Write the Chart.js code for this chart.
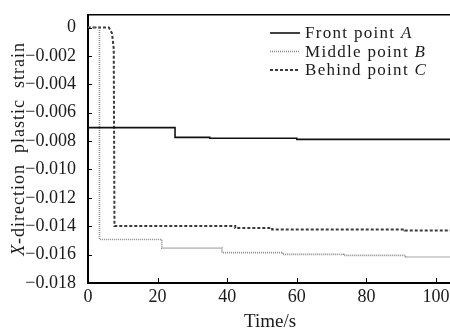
<!DOCTYPE html>
<html>
<head>
<meta charset="utf-8">
<script src="https://cdn.jsdelivr.net/npm/chart.js@4"></script>
<style>
  html, body { margin: 0; padding: 0; background: #fff; }
  #wrap { width: 450px; height: 332px; position: relative; }
</style>
</head>
<body>
<div id="wrap"><canvas id="chart"></canvas></div>
<script>
// values (time in s, strain)
const timesA = [0, 25, 25, 35, 35, 60, 60, 104];
const strainA = [-0.00705, -0.00705, -0.00774, -0.00774, -0.0078, -0.0078, -0.00788, -0.00788];

const timesB = [0, 3.3, 3.3, 21.2, 21.2, 38.5, 38.5, 56, 56, 73.4, 73.4, 91.2, 91.2, 104];
const strainB = [0, 0, -0.01493, -0.01493, -0.01554, -0.01554, -0.01586, -0.01586, -0.01598, -0.01598, -0.01605, -0.01605, -0.01617, -0.01617];

const timesC = [0, 6, 6.9, 7.4, 7.6, 42.3, 42.3, 52.9, 52.9, 91, 91, 104];
const strainC = [0, 0, -0.0004, -0.0015, -0.01398, -0.01398, -0.01412, -0.01412, -0.01423, -0.01423, -0.0143, -0.0143];

const seriesNames = [['Front point ', 'A'], ['Middle point ', 'B'], ['Behind point ', 'C']];
const xTicks = [0, 20, 40, 60, 80, 100];
const yTicks = [0, -0.002, -0.004, -0.006, -0.008, -0.010, -0.012, -0.014, -0.016, -0.018];

const FONT = '"Liberation Serif", "DejaVu Serif", serif';
const TEXT = '#1a1a1a';

function toPoints(xs, ys) {
    return xs.map((x, i) => ({ x: x, y: ys[i] }));
}

// top border, inner tick marks, legend and axis titles
const decor = {
    id: 'decor',
    afterDraw(chart) {
        const ctx = chart.ctx;
        const area = chart.chartArea;
        const xs = chart.scales.x;
        const ys = chart.scales.y;
        ctx.save();
        ctx.strokeStyle = '#000';
        ctx.lineWidth = 1.5;
        ctx.beginPath();
        ctx.moveTo(area.left, area.top);
        ctx.lineTo(area.right, area.top);
        ctx.stroke();

        ctx.lineWidth = 1;
        xTicks.forEach(v => {
            const px = Math.round(xs.getPixelForValue(v)) + 0.5;
            ctx.beginPath();
            ctx.moveTo(px, area.bottom);
            ctx.lineTo(px, area.bottom - 5);
            ctx.stroke();
        });
        yTicks.forEach(v => {
            const py = Math.round(ys.getPixelForValue(v)) + 0.5;
            ctx.beginPath();
            ctx.moveTo(area.left, py);
            ctx.lineTo(area.left + 4, py);
            ctx.stroke();
        });

        // legend
        const ds = chart.data.datasets;
        ctx.textBaseline = 'middle';
        ctx.textAlign = 'left';
        ctx.fillStyle = TEXT;
        seriesNames.forEach((name, i) => {
            const y = 33 + i * 18.5;
            ctx.strokeStyle = ds[i].borderColor;
            ctx.lineWidth = ds[i].borderWidth;
            ctx.setLineDash(ds[i].borderDash || []);
            ctx.beginPath();
            ctx.moveTo(270, y);
            ctx.lineTo(300, y);
            ctx.stroke();
            ctx.setLineDash([]);
            ctx.letterSpacing = '1.3px';
            ctx.font = '17px ' + FONT;
            ctx.fillText(name[0], 305, y + 1);
            const w = ctx.measureText(name[0]).width;
            ctx.font = 'italic 17px ' + FONT;
            ctx.fillText(name[1], 305 + w, y + 1);
            ctx.letterSpacing = '0px';
        });

        // x title
        ctx.font = '19px ' + FONT;
        ctx.textAlign = 'center';
        ctx.textBaseline = 'alphabetic';
        ctx.fillText('Time/s', (area.left + area.right) / 2 + 1, 327);

        // y title with italic X
        ctx.translate(24, (area.top + area.bottom) / 2);
        ctx.rotate(-Math.PI / 2);
        ctx.letterSpacing = '1px';
        ctx.font = 'italic 18px ' + FONT;
        const p1 = 'X';
        const p2 = '-direction  plastic  strain';
        const w1 = ctx.measureText(p1).width;
        ctx.font = '18px ' + FONT;
        const w2 = ctx.measureText(p2).width;
        const start = -(w1 + w2) / 2;
        ctx.textAlign = 'left';
        ctx.font = 'italic 18px ' + FONT;
        ctx.fillText(p1, start, 0);
        ctx.font = '18px ' + FONT;
        ctx.fillText(p2, start + w1, 0);
        ctx.restore();
    }
};

const ctx = document.getElementById('chart').getContext('2d');
new Chart(ctx, {
    type: 'line',
    data: {
        datasets: [{
            label: 'Front point A',
            data: toPoints(timesA, strainA),
            borderColor: '#111',
            borderWidth: 1.6,
            pointRadius: 0
        }, {
            label: 'Middle point B',
            data: toPoints(timesB, strainB),
            borderColor: '#8a8a8a',
            borderWidth: 1.6,
            borderDash: [1, 1],
            pointRadius: 0
        }, {
            label: 'Behind point C',
            data: toPoints(timesC, strainC),
            borderColor: '#3a3a3a',
            borderWidth: 2,
            borderDash: [3, 2],
            pointRadius: 0
        }]
    },
    options: {
        responsive: true,
        maintainAspectRatio: false,
        animation: false,
        layout: { padding: { left: 0, right: 0, top: 12, bottom: 0 } },
        plugins: {
            legend: { display: false },
            tooltip: { enabled: false }
        },
        scales: {
            x: {
                type: 'linear',
                min: 0,
                max: 104,
                afterBuildTicks: scale => { scale.ticks = xTicks.map(v => ({ value: v })); },
                afterFit: scale => { scale.height = 49; },
                grid: { display: false },
                border: { color: '#000', width: 2 },
                ticks: {
                    color: TEXT,
                    font: { family: FONT, size: 18 },
                    padding: -5,
                    maxRotation: 0
                }
            },
            y: {
                min: -0.018,
                max: 0.0009,
                afterBuildTicks: scale => { scale.ticks = yTicks.map(v => ({ value: v })); },
                afterFit: scale => { scale.width = 88; },
                grid: { display: false },
                border: { color: '#000', width: 2 },
                ticks: {
                    color: TEXT,
                    font: { family: FONT, size: 18 },
                    padding: 4,
                    callback: v => Math.abs(v) < 1e-9 ? '0' : '\u2212' + Math.abs(v).toFixed(3)
                }
            }
        }
    },
    plugins: [decor]
});
</script>
</body>
</html>
